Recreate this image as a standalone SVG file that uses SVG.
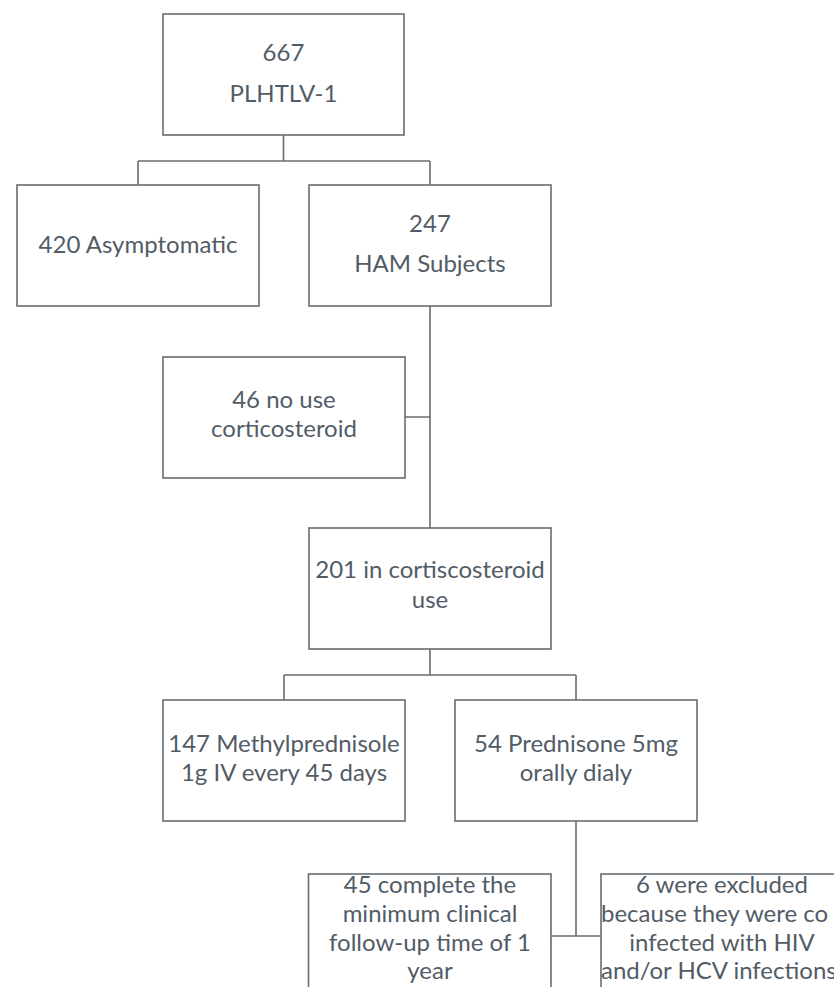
<svg xmlns="http://www.w3.org/2000/svg" width="834" height="987" viewBox="0 0 834 987">
<style>
.box{fill:#ffffff;stroke:#676d73;stroke-width:1.6}
.t{font-family:Lato,"Open Sans","Liberation Sans",sans-serif;font-size:24px;fill:#525c66;text-anchor:middle}
.s{text-anchor:start}
.c{fill:none;stroke:#676d73;stroke-width:1.6}
</style>
<rect width="834" height="987" fill="#ffffff"/>
<g id="connectors">
<path class="c" d="M283.5,135 V161 M138,161 H430 M138,161 V185 M430,161 V185"/>
<path class="c" d="M430,306 V528 M405,417 H430"/>
<path class="c" d="M430,649 V675 M284,675 H576 M284,675 V700 M576,675 V700"/>
<path class="c" d="M576,821 V936 M551,936 H601"/>
</g>
<g id="n667">
<rect class="box" x="163" y="14" width="241" height="121"/>
<text class="t" x="283.5" y="61">667</text>
<text class="t" x="283.5" y="102">PLHTLV-1</text>
</g>
<g id="n420">
<rect class="box" x="17" y="185" width="242" height="121"/>
<text class="t" x="138" y="253">420 Asymptomatic</text>
</g>
<g id="n247">
<rect class="box" x="309" y="185" width="242" height="121"/>
<text class="t" x="430" y="232">247</text>
<text class="t" x="430" y="272">HAM Subjects</text>
</g>
<g id="n46">
<rect class="box" x="163" y="357" width="242" height="121"/>
<text class="t" x="284" y="408">46 no use</text>
<text class="t" x="284" y="437">corticosteroid</text>
</g>
<g id="n201">
<rect class="box" x="309" y="528" width="242" height="121"/>
<text class="t" x="430" y="578">201 in cortiscosteroid</text>
<text class="t" x="430" y="608">use</text>
</g>
<g id="n147">
<rect class="box" x="163" y="700" width="242" height="121"/>
<text class="t" x="284" y="752">147 Methylprednisole</text>
<text class="t" x="284" y="781">1g IV every 45 days</text>
</g>
<g id="n54">
<rect class="box" x="455" y="700" width="242" height="121"/>
<text class="t" x="576" y="752">54 Prednisone 5mg</text>
<text class="t" x="576" y="781">orally dialy</text>
</g>
<g id="n45">
<rect class="box" x="308.5" y="874" width="242.5" height="130"/>
<text class="t" x="430" y="893">45 complete the</text>
<text class="t" x="430" y="922">minimum clinical</text>
<text class="t" x="430" y="951">follow-up time of 1</text>
<text class="t" x="430" y="979">year</text>
</g>
<g id="n6">
<rect class="box" x="601" y="874" width="242" height="130"/>
<text class="t" x="722" y="893">6 were excluded</text>
<text class="t s" x="601" y="922">because they were co</text>
<text class="t" x="722" y="951">infected with HIV</text>
<text class="t s" x="601" y="979">and/or HCV infections</text>
</g>
</svg>
